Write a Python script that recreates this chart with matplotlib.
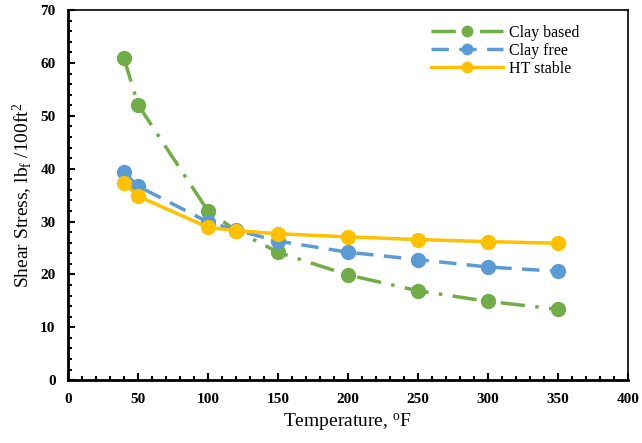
import matplotlib.pyplot as plt
from matplotlib.ticker import MultipleLocator

temp = [40, 50, 100, 120, 150, 200, 250, 300, 350]
clay_based = [60.9, 52.1, 32.0, 28.3, 24.2, 19.9, 16.9, 14.9, 13.4]
clay_free = [39.3, 36.7, 29.9, 28.4, 26.3, 24.2, 22.8, 21.4, 20.6]
ht_stable = [37.3, 34.8, 28.9, 28.3, 27.7, 27.1, 26.6, 26.2, 25.9]

plt.rcParams['font.family'] = ['Liberation Serif', 'DejaVu Serif']
plt.rcParams['mathtext.fontset'] = 'custom'
plt.rcParams['mathtext.rm'] = 'Liberation Serif'
plt.rcParams['mathtext.it'] = 'Liberation Serif'

fig = plt.figure(figsize=(6.42, 4.43), dpi=100)
ax = fig.add_axes([0.106, 0.142, 0.872, 0.835])

ax.plot(temp, clay_based, color='#70AD47', lw=2.5, ls=(0, (7, 3, 1, 3)),
        marker='o', ms=10, label='Clay based')
ax.plot(temp, clay_free, color='#5B9BD5', lw=2.5, ls=(0, (5, 3)),
        marker='o', ms=10, label='Clay free')
ax.plot(temp, ht_stable, color='#FFC000', lw=2.5, ls='-',
        marker='o', ms=10, label='HT stable')

ax.set_xlim(0, 400)
ax.set_ylim(0, 70)
ax.xaxis.set_major_locator(MultipleLocator(50))
ax.xaxis.set_minor_locator(MultipleLocator(10))
ax.yaxis.set_major_locator(MultipleLocator(10))
ax.yaxis.set_minor_locator(MultipleLocator(2))
ax.tick_params(which='both', direction='in', width=1.5)
ax.tick_params(which='major', length=5, labelsize=11, pad=9)
ax.tick_params(which='minor', length=3)
for lab in ax.get_xticklabels() + ax.get_yticklabels():
    lab.set_fontweight('bold')

ax.spines['top'].set_linewidth(1.2)
ax.spines['right'].set_linewidth(1.2)
ax.spines['left'].set_linewidth(2)
ax.spines['bottom'].set_linewidth(2)

ax.set_xlabel('Temperature, $^{\\mathrm{o}}$F', fontsize=14)
ax.set_ylabel('Shear Stress, lb$_{\\mathrm{f}}$ /100ft$^{2}$', fontsize=14)

ax.legend(loc='upper left', bbox_to_anchor=(0.648, 0.96), fontsize=11.5,
          frameon=False, handlelength=4.5, handletextpad=0.4, markerscale=0.75,
          borderpad=0, borderaxespad=0, labelspacing=0.12)

plt.savefig('out.png', dpi=100)
